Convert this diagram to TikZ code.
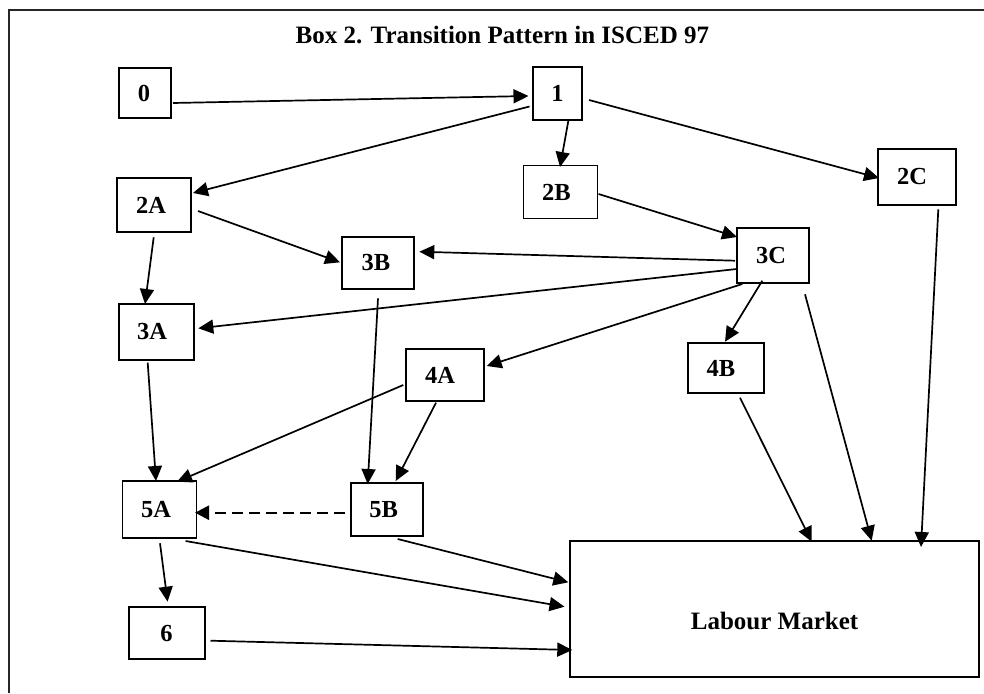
\documentclass[tikz,border=0pt]{standalone}
\usepackage{fontspec}
\setmainfont{Liberation Serif}
\usetikzlibrary{arrows.meta,calc}
\newcommand\mvleft[2]{\hspace*{-#1pt}#2}
\begin{document}
\begin{tikzpicture}[x=1pt,y=-1pt,
  box/.style={draw,line width=1.9pt,inner sep=0pt,font=\fontsize{24.5}{28}\selectfont\bfseries},
  conn/.style={line width=1.7pt,-{Triangle[length=15pt,width=14pt]}},
  bigtext/.style={font=\fontsize{25}{30}\selectfont\bfseries,anchor=base,inner sep=0pt}]
\useasboundingbox (0,0) rectangle (984,693);
\draw[line width=2pt,black!85] (9,693) -- (9,10) -- (984,10);
\node[bigtext] (title) at (502.4,44) {Box 2. Transition Pattern in ISCED 97};
% nodes
\node[box,minimum width=52pt,minimum height=50pt] (n0) at (145,93) {\mvleft{2}{0}};
\node[box,minimum width=49.5pt,minimum height=53pt] (n1) at (557.5,93.5) {1};
\node[box,minimum width=74pt,minimum height=54pt] (n2A) at (154,205) {\mvleft{6}{2A}};
\node[box,minimum width=74pt,minimum height=53pt] (n2B) at (560.5,192) {\mvleft{8}{2B}};
\node[box,minimum width=77.5pt,minimum height=56pt] (n2C) at (917,177) {\mvleft{10}{2C}};
\node[box,minimum width=75pt,minimum height=56pt] (n3A) at (156.5,332) {\mvleft{9}{3A}};
\node[box,minimum width=72pt,minimum height=52pt] (n3B) at (378,263) {\mvleft{4}{3B}};
\node[box,minimum width=72pt,minimum height=55pt] (n3C) at (773,255.5) {\mvleft{4}{3C}};
\node[box,minimum width=78pt,minimum height=52pt] (n4A) at (445,375) {\mvleft{10}{4A}};
\node[box,minimum width=76pt,minimum height=50pt] (n4B) at (726,368) {\mvleft{10}{4B}};
\node[box,minimum width=74pt,minimum height=57pt] (n5A) at (159.5,509.5) {\mvleft{7}{5A}};
\node[box,minimum width=72pt,minimum height=53pt] (n5B) at (386.7,509.5) {\mvleft{6}{5B}};
\node[box,minimum width=75.5pt,minimum height=52pt] (n6) at (167,633) {\mvleft{1}{6}};
\node[box,minimum width=409pt,minimum height=136pt] (nLM) at (774.5,609) {};
\node[bigtext] (lmtext) at ([shift={(0,20.3)}]nLM.center) {Labour Market};
% connectors
\draw[conn] ([shift={(28,10)}]n0.center) -- ([shift={(-29,2.5)}]n1.center);
\draw[conn] ([shift={(-28,13)}]n1.center) -- ([shift={(39,-12)}]n2A.center);
\draw[conn] ([shift={(11,26.5)}]n1.center) -- ([shift={(-0.5,-25)}]n2B.center);
\draw[conn] ([shift={(31.5,6.5)}]n1.center) -- ([shift={(-38,1)}]n2C.center);
\draw[conn] ([shift={(38,2)}]n2B.center) -- ([shift={(-36,-18.5)}]n3C.center);
\draw[conn] ([shift={(21.3,32.3)}]n2C.center) -- ([shift={(146.5,-62)}]nLM.center);
\draw[conn] ([shift={(-38,5.2)}]n3C.center) -- ([shift={(41.3,-11.3)}]n3B.center);
\draw[conn] ([shift={(-36.3,13.5)}]n3C.center) -- ([shift={(41.8,-3.7)}]n3A.center);
\draw[conn] ([shift={(-30.7,28.5)}]n3C.center) -- ([shift={(41.7,-9)}]n4A.center);
\draw[conn] ([shift={(-10.7,25.2)}]n3C.center) -- ([shift={(-1,-26.3)}]n4B.center);
\draw[conn] ([shift={(32,38.8)}]n3C.center) -- ([shift={(97.2,-68.3)}]nLM.center);
\draw[conn] ([shift={(14,29.7)}]n4B.center) -- ([shift={(37.2,-67.3)}]nLM.center);
\draw[conn] ([shift={(44,6)}]n2A.center) -- ([shift={(-38,-0.7)}]n3B.center);
\draw[conn] ([shift={(-0.3,32.3)}]n2A.center) -- ([shift={(-11.5,-28)}]n3A.center);
\draw[conn] ([shift={(-8.8,30.7)}]n3A.center) -- ([shift={(-3.5,-28.5)}]n5A.center);
\draw[conn] ([shift={(0,35.3)}]n3B.center) -- ([shift={(-19,-25.5)}]n5B.center);
\draw[conn] ([shift={(-41.7,10)}]n4A.center) -- ([shift={(17.5,-27.8)}]n5A.center);
\draw[conn] ([shift={(-9,27.7)}]n4A.center) -- ([shift={(9,-28.5)}]n5B.center);
\draw[conn,line width=2.4pt,dash pattern=on 10.5pt off 6.5pt,-{Triangle[length=14pt,width=14pt]}] ([shift={(-42,3.2)}]n5B.center) -- ([shift={(35.5,3.2)}]n5A.center);
\draw[conn] ([shift={(11,29.5)}]n5B.center) -- ([shift={(-206.2,-26.7)}]nLM.center);
\draw[conn] ([shift={(26.1,31.5)}]n5A.center) -- ([shift={(-210,-2.3)}]nLM.center);
\draw[conn] ([shift={(0.5,33.8)}]n5A.center) -- ([shift={(0.6,-31.3)}]n6.center);
\draw[conn] ([shift={(43.5,7.7)}]n6.center) -- ([shift={(-202.2,41)}]nLM.center);
\end{tikzpicture}
\end{document}
